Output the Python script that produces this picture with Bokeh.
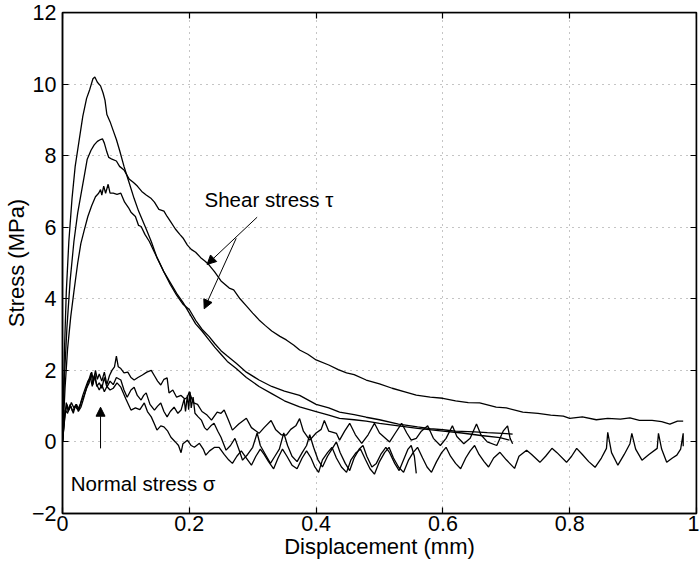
from bokeh.plotting import figure
from bokeh.models import Range1d, LinearAxis, CustomJSTickFormatter, Arrow, NormalHead, Label
from bokeh.embed import file_html
from bokeh.resources import INLINE

# ---------------- data ----------------
x_ticks = [0, 0.2, 0.4, 0.6, 0.8, 1.0]
y_ticks = [-2, 0, 2, 4, 6, 8, 10, 12]

shear_a = [(0,0),(0.003,2.5),(0.006,4.2),(0.01,5.6),(0.015,6.8),(0.02,7.7),(0.026,8.4),(0.032,9.1),(0.038,9.6),(0.043,9.85),
           (0.048,10.15),(0.051,10.2),(0.055,10.05),(0.06,9.95),(0.064,9.75),(0.067,9.55),(0.07,9.15),(0.075,8.95),(0.08,8.7),
           (0.085,8.45),(0.09,8.15),(0.097,7.7),(0.105,7.25),(0.113,6.8),(0.12,6.45),(0.126,6.2),(0.132,5.95),(0.14,5.6),
           (0.149,5.15),(0.16,4.75),(0.17,4.4),(0.18,4.1),(0.19,3.85),(0.2,3.7),(0.21,3.4),(0.22,3.15),(0.231,2.95),(0.24,2.75),
           (0.25,2.55),(0.26,2.4),(0.274,2.2),(0.29,1.95),(0.31,1.73),(0.33,1.55),(0.35,1.42),(0.374,1.3),(0.4,1.05),(0.42,0.95),
           (0.437,0.83),(0.46,0.76),(0.479,0.69),(0.5,0.62),(0.53,0.5),(0.56,0.42),(0.58,0.37),(0.6,0.34),(0.62,0.3),(0.65,0.28),
           (0.67,0.26),(0.694,0.24),(0.71,0.22)]

shear_b = [(0,0),(0.003,1.8),(0.007,3.2),(0.012,4.5),(0.018,5.6),(0.024,6.4),(0.03,7.0),(0.035,7.5),(0.039,7.9),(0.045,8.15),
           (0.05,8.3),(0.055,8.4),(0.06,8.45),(0.063,8.47),(0.066,8.35),(0.07,8.1),(0.073,7.95),(0.078,7.9),(0.085,7.85),
           (0.09,7.7),(0.097,7.6),(0.105,7.35),(0.112,7.25),(0.118,7.15),(0.125,7.0),(0.132,6.9),(0.14,6.8),(0.145,6.7),
           (0.152,6.5),(0.16,6.45),(0.165,6.3),(0.171,6.14),(0.178,5.95),(0.185,5.8),(0.19,5.7),(0.197,5.5),(0.203,5.38),
           (0.21,5.3),(0.218,5.15),(0.225,5.05),(0.231,4.95),(0.24,4.75),(0.25,4.5),(0.263,4.3),(0.27,4.25),(0.28,4.0),
           (0.29,3.8),(0.3,3.6),(0.31,3.41),(0.32,3.25),(0.33,3.1),(0.343,2.95),(0.353,2.85),(0.365,2.7),(0.374,2.57),
           (0.387,2.45),(0.4,2.29),(0.42,2.15),(0.435,2.02),(0.448,1.93),(0.46,1.88),(0.479,1.73),(0.5,1.62),(0.52,1.5),
           (0.54,1.4),(0.558,1.31),(0.58,1.25),(0.6,1.22),(0.62,1.15),(0.64,1.1),(0.658,1.09),(0.684,0.97),(0.7,0.95),
           (0.726,0.83),(0.75,0.8),(0.77,0.75),(0.79,0.72),(0.8,0.66),(0.82,0.7),(0.842,0.62),(0.86,0.66),(0.88,0.64),
           (0.895,0.67),(0.91,0.6),(0.93,0.6),(0.945,0.57),(0.958,0.5),(0.97,0.58),(0.979,0.58)]

shear_c = [(0,0),(0.004,1.5),(0.008,2.6),(0.013,3.5),(0.018,4.2),(0.024,5.0),(0.029,5.55),(0.034,5.9),(0.04,6.3),(0.046,6.6),
           (0.052,6.85),(0.057,6.95),(0.06,7.05),(0.062,6.9),(0.065,7.15),(0.068,6.95),(0.072,7.2),(0.075,6.95),(0.08,6.95),
           (0.086,6.92),(0.092,6.95),(0.098,6.7),(0.104,6.55),(0.108,6.42),(0.115,6.3),(0.12,6.05),(0.124,6.02),(0.13,5.8),
           (0.137,5.6),(0.145,5.3),(0.152,5.05),(0.16,4.75),(0.17,4.45),(0.18,4.15),(0.19,3.9),(0.2,3.6),(0.21,3.3),(0.22,3.1),
           (0.231,2.85),(0.24,2.65),(0.25,2.45),(0.26,2.25),(0.274,2.05),(0.29,1.8),(0.31,1.55),(0.33,1.35),(0.35,1.15),
           (0.374,0.98),(0.4,0.85),(0.42,0.75),(0.437,0.66),(0.46,0.62),(0.479,0.58),(0.5,0.52),(0.53,0.45),(0.56,0.38),
           (0.6,0.3),(0.63,0.25),(0.66,0.18),(0.69,0.12),(0.705,0.05)]

normal_1 = [(0,0),(0.004,0.75),(0.007,1.05),(0.01,0.9),(0.014,1.1),(0.018,0.95),(0.022,1.05),(0.026,0.9),(0.03,1.15),
            (0.034,1.3),(0.038,1.5),(0.042,1.65),(0.046,1.95),(0.049,1.7),(0.052,2.0),(0.055,1.75),(0.058,1.9),(0.062,1.7),
            (0.066,1.95),(0.07,1.6),(0.074,1.85),(0.078,2.0),(0.082,2.1),(0.085,2.4),(0.088,2.1),(0.092,2.05),(0.097,1.93),
            (0.103,1.95),(0.108,1.8),(0.113,1.73),(0.119,1.8),(0.126,1.87),(0.133,1.95),(0.14,2.0),(0.145,1.85),(0.15,1.7),
            (0.155,1.59),(0.16,1.75),(0.165,1.79),(0.168,1.37),(0.174,1.45),(0.18,1.25),(0.187,1.3),(0.193,1.2),(0.197,1.25),
            (0.2,1.4),(0.206,1.1),(0.213,1.05),(0.22,0.85),(0.228,0.75),(0.235,0.61),(0.244,0.83),(0.25,0.8),(0.255,0.89),
            (0.262,0.6),(0.268,0.33),(0.278,0.5),(0.29,0.66),(0.298,0.4),(0.31,0.24),(0.318,0.4),(0.329,0.6),(0.336,0.35),
            (0.345,0.2),(0.353,0.19),(0.36,0.35),(0.368,0.45),(0.374,0.65),(0.38,0.3),(0.39,0.05),(0.4,0.25),(0.408,0.35),
            (0.413,0.6),(0.42,0.3),(0.432,0.24),(0.437,0.05),(0.445,0.3),(0.453,0.52),(0.462,0.2),(0.472,-0.04),(0.482,0.2),
            (0.492,0.52),(0.5,0.25),(0.516,0.0),(0.525,0.25),(0.535,0.52),(0.543,0.25),(0.55,0.05),(0.558,0.1),(0.566,0.3),
            (0.576,0.45),(0.585,0.1),(0.596,-0.1),(0.605,0.1),(0.615,0.45),(0.622,0.15),(0.633,-0.05),(0.643,0.1),
            (0.653,0.5),(0.66,0.2),(0.67,0.0),(0.685,-0.1),(0.695,0.3),(0.702,0.45),(0.706,0.1),(0.71,-0.05)]

normal_2 = [(0,0),(0.003,0.6),(0.006,1.1),(0.009,0.85),(0.013,1.0),(0.017,0.8),(0.021,1.05),(0.025,0.85),(0.029,0.97),
            (0.033,1.2),(0.037,1.45),(0.041,1.7),(0.045,1.93),(0.048,1.6),(0.051,1.9),(0.054,1.55),(0.058,1.65),(0.062,1.5),
            (0.066,1.8),(0.07,1.53),(0.075,1.7),(0.08,1.6),(0.085,1.8),(0.092,1.73),(0.097,1.45),(0.102,1.25),(0.108,1.45),
            (0.113,1.53),(0.118,1.3),(0.124,1.17),(0.128,1.3),(0.132,1.37),(0.138,1.05),(0.145,0.89),(0.15,1.0),(0.155,1.09),
            (0.16,0.85),(0.165,0.7),(0.17,0.85),(0.176,0.97),(0.182,0.8),(0.187,0.89),(0.192,1.2),(0.194,0.85),(0.197,1.3),
            (0.199,0.9),(0.201,1.4),(0.203,0.95),(0.206,1.25),(0.209,0.8),(0.214,0.7),(0.219,0.61),(0.224,0.4),(0.228,0.33),
            (0.234,0.45),(0.239,0.52),(0.245,0.3),(0.25,0.13),(0.258,-0.23),(0.265,-0.1),(0.272,0.1),(0.278,-0.2),
            (0.284,-0.51),(0.292,-0.35),(0.3,-0.15),(0.307,0.25),(0.312,-0.1),(0.32,-0.35),(0.328,-0.6),(0.335,-0.4),
            (0.342,-0.2),(0.349,0.25),(0.355,-0.1),(0.362,-0.4),(0.37,-0.55),(0.378,-0.3),(0.385,-0.1),(0.39,0.2),
            (0.396,-0.15),(0.403,-0.5),(0.41,-0.7),(0.418,-0.4),(0.425,-0.2),(0.432,0.0),(0.438,-0.3),(0.446,-0.6),
            (0.453,-0.8),(0.46,-0.45),(0.468,-0.2),(0.474,-0.1),(0.48,-0.4),(0.488,-0.7),(0.495,-0.6),(0.502,-0.35),
            (0.51,-0.15),(0.516,-0.3),(0.524,-0.6),(0.531,-0.8),(0.538,-0.5),(0.545,-0.2),(0.55,-0.1),(0.555,-0.4),
            (0.558,-0.88)]

normal_3 = [(0,0),(0.004,0.9),(0.008,0.8),(0.012,1.05),(0.016,0.85),(0.02,1.0),(0.024,0.9),(0.028,1.05),(0.032,1.3),
            (0.036,1.5),(0.04,1.7),(0.044,1.8),(0.047,1.55),(0.05,1.85),(0.054,1.6),(0.058,1.45),(0.062,1.6),(0.066,1.4),
            (0.07,1.55),(0.075,1.45),(0.08,1.5),(0.086,1.65),(0.092,1.53),(0.1,1.2),(0.108,0.89),(0.115,0.95),(0.122,0.9),
            (0.129,1.09),(0.134,0.85),(0.14,0.7),(0.145,0.5),(0.149,0.33),(0.155,0.45),(0.16,0.42),(0.166,0.3),(0.171,0.13),
            (0.178,0.0),(0.183,-0.1),(0.187,-0.3),(0.19,-0.05),(0.197,0.05),(0.203,-0.1),(0.208,-0.15),(0.216,-0.04),
            (0.222,-0.2),(0.226,-0.37),(0.232,-0.25),(0.24,-0.15),(0.247,-0.15),(0.255,-0.35),(0.262,-0.5),(0.268,-0.6),
            (0.275,-0.4),(0.282,-0.25),(0.29,-0.45),(0.298,-0.65),(0.305,-0.4),(0.312,-0.2),(0.318,-0.35),(0.325,-0.55),
            (0.333,-0.75),(0.34,-0.45),(0.347,-0.2),(0.354,-0.4),(0.362,-0.65),(0.37,-0.75),(0.378,-0.45),(0.385,-0.25),
            (0.392,-0.45),(0.398,-0.7),(0.404,-0.85),(0.41,-0.5),(0.418,-0.3),(0.425,-0.15),(0.432,-0.45),(0.44,-0.7),
            (0.448,-0.85),(0.455,-0.5),(0.463,-0.3),(0.47,-0.2),(0.478,-0.5),(0.485,-0.75),(0.492,-0.9),(0.5,-0.55),
            (0.508,-0.3),(0.515,-0.15),(0.522,-0.45),(0.53,-0.7),(0.538,-0.85),(0.546,-0.5),(0.553,-0.3),(0.56,-0.15),
            (0.568,-0.45),(0.575,-0.7),(0.582,-0.85),(0.59,-0.55),(0.598,-0.3),(0.605,-0.15),(0.612,-0.4),(0.62,-0.6),
            (0.628,-0.75),(0.636,-0.45),(0.643,-0.25),(0.65,-0.1),(0.657,-0.35),(0.665,-0.55),(0.672,-0.7),(0.68,-0.45),
            (0.69,-0.29),(0.7,-0.5),(0.713,-0.74),(0.72,-0.4),(0.732,-0.23),(0.74,-0.35),(0.753,-0.57),(0.762,-0.4),
            (0.772,-0.18),(0.78,-0.3),(0.795,-0.57),(0.803,-0.4),(0.811,-0.18),(0.82,-0.35),(0.83,-0.55),(0.84,-0.71),
            (0.85,-0.45),(0.858,-0.18),(0.86,0.27),(0.866,-0.3),(0.876,-0.65),(0.886,-0.35),(0.895,-0.05),(0.898,0.24),
            (0.904,-0.2),(0.914,-0.51),(0.925,-0.35),(0.938,-0.18),(0.94,0.24),(0.945,-0.2),(0.953,-0.57),(0.962,-0.45),
            (0.969,-0.37),(0.975,-0.2),(0.979,0.24),(0.979,-0.12)]

series = [shear_a, shear_b, shear_c, normal_1, normal_2, normal_3]

shear_label = "Shear stress \u03c4"
normal_label = "Normal stress \u03c3"
x_label = "Displacement (mm)"
y_label = "Stress (MPa)"

# ---------------- figure ----------------
FONT = "Liberation Sans"
p = figure(width=699, height=563, x_range=Range1d(0, 1), y_range=Range1d(-2, 12),
           output_backend="svg", toolbar_location=None,
           min_border_left=56, min_border_top=12, min_border_right=3, min_border_bottom=50)
p.background_fill_color = "white"
p.border_fill_color = "white"
p.outline_line_color = "black"
p.outline_line_width = 1.5

for ax in (p.xaxis[0], p.yaxis[0]):
    ax.major_label_text_font = FONT
    ax.major_label_text_font_size = "21.5px"
    ax.major_label_text_color = "black"
    ax.axis_label_text_font = FONT
    ax.axis_label_text_font_size = "22px"
    ax.axis_label_text_font_style = "normal"
    ax.axis_label_text_color = "black"
    ax.major_tick_in = 6
    ax.major_tick_out = 0
    ax.minor_tick_in = 0
    ax.minor_tick_out = 0
    ax.axis_line_width = 1.5
    ax.major_tick_line_width = 1.2

p.xaxis.ticker = x_ticks
p.yaxis.ticker = y_ticks
p.xaxis.axis_label = x_label
p.yaxis.axis_label = y_label
p.xaxis.major_label_standoff = 2
p.xaxis.axis_label_standoff = 0
p.yaxis.major_label_standoff = 6
p.yaxis.axis_label_standoff = 0
p.yaxis.major_label_overrides = {-2: "\u22122"}
p.xaxis.major_label_overrides = {0: "0", 1: "1"}

# box ticks on the right and top sides (no labels, no extra panel space)
blank = CustomJSTickFormatter(code="return ''")
for side, tks, loc in (("right", y_ticks, 1.0), ("above", x_ticks, 12)):
    ax = LinearAxis(ticker=tks, formatter=blank, major_tick_in=6, major_tick_out=0,
                    minor_tick_in=0, minor_tick_out=0, axis_line_width=1.5,
                    major_tick_line_width=1.2, major_label_standoff=0,
                    axis_label_standoff=0, major_label_text_font_size="0px",
                    fixed_location=loc)
    p.add_layout(ax, side)

for g in (p.xgrid[0], p.ygrid[0]):
    g.grid_line_color = "#8a8a8a"
    g.grid_line_dash = "1 5"
    g.grid_line_width = 1

for s in series:
    xs = [pt[0] for pt in s]
    ys = [pt[1] for pt in s]
    p.line(xs, ys, line_color="black", line_width=1.3)

# annotations
p.add_layout(Label(x=0.224, y=6.78, text=shear_label, text_font=FONT, text_font_size="20.5px",
                   text_baseline="middle", text_color="black"))
p.add_layout(Label(x=0.013, y=-1.15, text=normal_label, text_font=FONT, text_font_size="20.5px",
                   text_baseline="middle", text_color="black"))

arr = [((0.307, 6.28), (0.228, 4.96)), ((0.274, 5.69), (0.2235, 3.72)), ((0.060, -0.18), (0.060, 0.97))]
for (x0, y0), (x1, y1) in arr:
    p.add_layout(Arrow(end=NormalHead(size=9, fill_color="black", line_color="black", line_width=1),
                       x_start=x0, y_start=y0, x_end=x1, y_end=y1, line_color="black", line_width=1))

open("out.html", "w").write(file_html(p, INLINE))
